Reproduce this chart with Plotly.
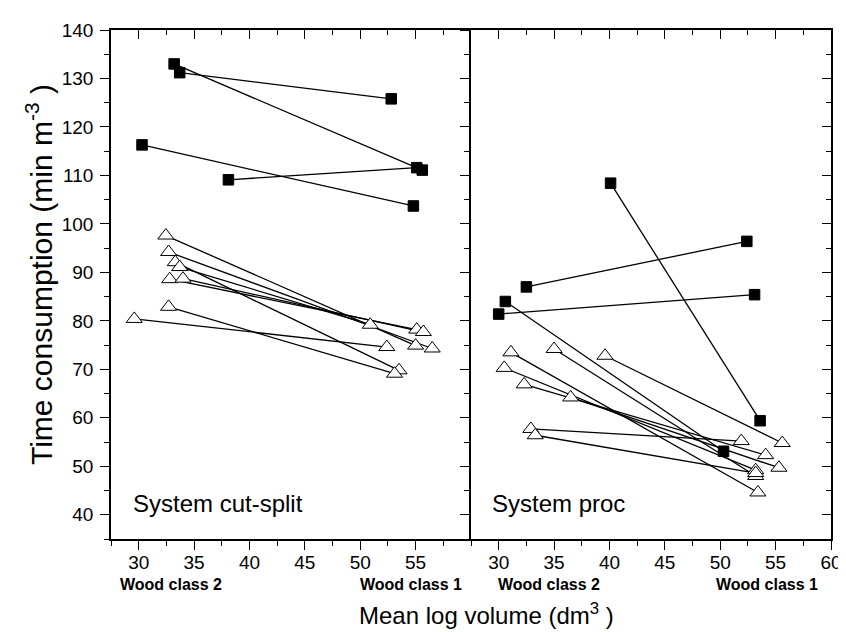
import plotly.graph_objects as go

# ---------------- data ----------------
# Left panel: System cut-split
cs_sq_x0 = [33.2, 33.7, 30.3, 38.1]
cs_sq_y0 = [133.0, 131.2, 116.3, 109.1]
cs_sq_x1 = [55.6, 52.8, 54.8, 55.1]
cs_sq_y1 = [111.1, 125.8, 103.7, 111.6]

cs_tr_x0 = [32.45, 32.7, 33.3, 33.7, 32.8, 34.0, 32.7, 29.6]
cs_tr_y0 = [97.6, 94.2, 92.1, 91.1, 88.6, 88.7, 82.9, 80.4]
cs_tr_x1 = [55.0, 56.5, 53.5, 50.9, 55.1, 55.7, 53.1, 52.4]
cs_tr_y1 = [74.9, 74.3, 69.8, 79.2, 78.2, 77.7, 69.1, 74.6]

# Right panel: System proc
pr_sq_x0 = [40.1, 32.5, 30.0, 30.6]
pr_sq_y0 = [108.4, 87.0, 81.4, 84.0]
pr_sq_x1 = [53.6, 52.4, 53.1, 50.3]
pr_sq_y1 = [59.4, 96.4, 85.4, 53.1]

pr_tr_x0 = [31.1, 35.0, 39.6, 30.5, 32.3, 36.5, 32.9, 33.3]
pr_tr_y0 = [73.5, 74.2, 72.8, 70.3, 66.9, 64.2, 57.7, 56.4]
pr_tr_x1 = [53.4, 53.2, 55.6, 53.2, 54.1, 55.3, 51.9, 53.2]
pr_tr_y1 = [44.6, 48.0, 54.8, 49.2, 52.3, 49.7, 55.2, 48.6]

left_xticks = [30, 35, 40, 45, 50, 55]
right_xticks = [30, 35, 40, 45, 50, 55, 60]
y_ticks = [40, 50, 60, 70, 80, 90, 100, 110, 120, 130, 140]

FONT = "Liberation Sans, Arial, sans-serif"
LW = 1.3

fig = go.Figure()


def add_lines(xs0, ys0, xs1, ys1, xa, ya):
    for a, b, c, d in zip(xs0, ys0, xs1, ys1):
        fig.add_trace(go.Scatter(x=[a, c], y=[b, d], mode="lines",
                                 line=dict(color="black", width=LW),
                                 xaxis=xa, yaxis=ya, showlegend=False,
                                 hoverinfo="skip"))


def add_markers(xs0, ys0, xs1, ys1, xa, ya, symbol, size, fill):
    fig.add_trace(go.Scatter(x=list(xs0) + list(xs1), y=list(ys0) + list(ys1),
                             mode="markers",
                             marker=dict(symbol=symbol, size=size, color=fill,
                                         line=dict(color="black", width=1)),
                             xaxis=xa, yaxis=ya, showlegend=False))


# lines first
add_lines(cs_tr_x0, cs_tr_y0, cs_tr_x1, cs_tr_y1, "x", "y")
add_lines(cs_sq_x0, cs_sq_y0, cs_sq_x1, cs_sq_y1, "x", "y")
add_lines(pr_tr_x0, pr_tr_y0, pr_tr_x1, pr_tr_y1, "x2", "y2")
add_lines(pr_sq_x0, pr_sq_y0, pr_sq_x1, pr_sq_y1, "x2", "y2")
# markers on top
add_markers(cs_tr_x0, cs_tr_y0, cs_tr_x1, cs_tr_y1, "x", "y", "triangle-up", 14, "white")
add_markers(cs_sq_x0, cs_sq_y0, cs_sq_x1, cs_sq_y1, "x", "y", "square", 10.5, "black")
add_markers(pr_tr_x0, pr_tr_y0, pr_tr_x1, pr_tr_y1, "x2", "y2", "triangle-up", 14, "white")
add_markers(pr_sq_x0, pr_sq_y0, pr_sq_x1, pr_sq_y1, "x2", "y2", "square", 10.5, "black")

# empty traces so the frame axes are drawn
for xa, ya in [("x3", "y"), ("x4", "y2"), ("x2", "y3")]:
    fig.add_trace(go.Scatter(x=[], y=[], xaxis=xa, yaxis=ya, showlegend=False))

XR = [27.5, 60]
YR = [35, 140]
tickfont = dict(family=FONT, size=19, color="black")


def minor(t0, dt, side):
    return dict(tickmode="linear", tick0=t0, dtick=dt, ticks=side,
                ticklen=5, tickcolor="black", tickwidth=1.3)


common_x = dict(range=XR, showgrid=False, zeroline=False, showline=True,
                linecolor="black", linewidth=1.6, tickcolor="black",
                tickwidth=1.3, ticklen=9, tickfont=tickfont, fixedrange=True)
common_y = dict(range=YR, showgrid=False, zeroline=False, showline=True,
                linecolor="black", linewidth=1.6, tickcolor="black",
                tickwidth=1.3, ticklen=9, tickfont=tickfont, fixedrange=True)

fig.update_layout(
    width=846, height=632,
    margin=dict(l=103, r=12, t=19, b=101, pad=0),
    paper_bgcolor="white", plot_bgcolor="white",
    font=dict(family=FONT, color="black"),
    showlegend=False,
    xaxis=dict(common_x, domain=[0, 0.5], anchor="y", tickmode="array",
               tickvals=left_xticks, ticks="outside",
               minor=minor(27.5, 5, "outside"), ticklabelstandoff=-4),
    xaxis2=dict(common_x, domain=[0.5, 1], anchor="y2", tickmode="array",
                tickvals=right_xticks, ticks="outside",
                minor=minor(27.5, 5, "outside"), ticklabelstandoff=-4),
    xaxis3=dict(common_x, overlaying="x", side="top", anchor="y",
                tickmode="array", tickvals=left_xticks, ticks="inside",
                showticklabels=False, minor=minor(27.5, 5, "inside")),
    xaxis4=dict(common_x, overlaying="x2", side="top", anchor="y2",
                tickmode="array", tickvals=right_xticks, ticks="inside",
                showticklabels=False, minor=minor(27.5, 5, "inside")),
    yaxis=dict(common_y, domain=[0, 1], anchor="x", tickmode="array",
               tickvals=y_ticks, ticks="outside",
               minor=minor(35, 10, "outside"), ticklabelstandoff=3),
    yaxis2=dict(common_y, domain=[0, 1], anchor="x2", matches="y",
                tickmode="array", tickvals=y_ticks, ticks="outside",
                showticklabels=False, minor=minor(35, 10, "outside")),
    yaxis3=dict(common_y, overlaying="y2", side="right", anchor="x2",
                tickmode="array", tickvals=y_ticks, ticks="inside",
                showticklabels=False, minor=minor(35, 10, "inside")),
)

ann = []
bold = dict(family=FONT, size=16, color="black")
for xp, t in [(0.0834, "<b>Wood class 2</b>"), (0.416, "<b>Wood class 1</b>"),
              (0.609, "<b>Wood class 2</b>"), (0.911, "<b>Wood class 1</b>")]:
    ann.append(dict(x=xp, y=-0.090, xref="paper", yref="paper", text=t,
                    showarrow=False, xanchor="center", yanchor="middle",
                    font=bold))
ann.append(dict(x=0.521, y=-0.148, xref="paper", yref="paper",
                text="Mean log volume (dm<sup>3</sup> )", showarrow=False,
                xanchor="center", yanchor="middle",
                font=dict(family=FONT, size=24, color="black")))
ann.append(dict(x=-0.099, y=0.52, xref="paper", yref="paper",
                text="Time consumption (min m<sup>-3</sup> )", showarrow=False,
                textangle=-90, xanchor="center", yanchor="middle",
                font=dict(family=FONT, size=30, color="black")))
ann.append(dict(x=0.0274, y=0.0703, xref="paper", yref="paper",
                text="System cut-split", showarrow=False, xanchor="left",
                yanchor="middle", font=dict(family=FONT, size=24, color="black")))
ann.append(dict(x=0.527, y=0.0703, xref="paper", yref="paper",
                text="System proc", showarrow=False, xanchor="left",
                yanchor="middle", font=dict(family=FONT, size=24, color="black")))
fig.update_layout(annotations=ann)

fig.write_html("out.html")
